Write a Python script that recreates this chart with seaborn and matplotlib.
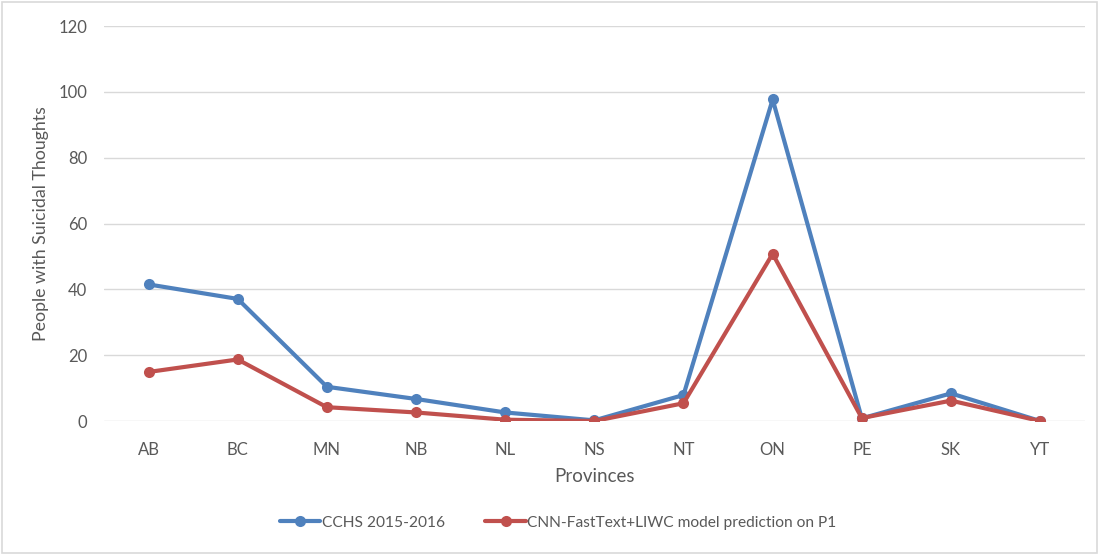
import matplotlib
matplotlib.use("Agg")
import matplotlib.pyplot as plt
import seaborn as sns
import pandas as pd
from matplotlib.patches import Rectangle

provinces = ["AB", "BC", "MN", "NB", "NL", "NS", "NT", "ON", "PE", "SK", "YT"]
cchs = [41.5, 37.1, 10.4, 6.7, 2.6, 0.2, 7.9, 97.7, 0.8, 8.4, 0.0]
cnn = [14.9, 18.7, 4.2, 2.6, 0.4, 0.0, 5.4, 50.8, 0.9, 6.2, 0.0]
series_names = ["CCHS 2015-2016", "CNN-FastText+LIWC model prediction on P1"]
colors = ["#4F81BD", "#C0504D"]
yticks = [0, 20, 40, 60, 80, 100, 120]

sns.set_theme(style="white")
plt.rcParams["font.family"] = ["Lato", "DejaVu Sans"]

df = pd.DataFrame({
    "Provinces": provinces * 2,
    "value": cchs + cnn,
    "series": [series_names[0]] * len(provinces) + [series_names[1]] * len(provinces),
})

fig = plt.figure(figsize=(10.99, 5.55), dpi=100)
ax = fig.add_axes([0.0946, 0.2414, 0.8924, 0.7117])

for name, col in zip(series_names, colors):
    sub = df[df["series"] == name]
    sns.lineplot(data=sub, x="Provinces", y="value", ax=ax, color=col,
                 marker="o", markersize=8, markeredgewidth=0, linewidth=3.0,
                 label=name, sort=False)

ax.set_xlim(-0.5, len(provinces) - 0.5)
ax.set_ylim(0, 120)
ax.set_yticks(yticks)
ax.set_yticklabels([str(t) for t in yticks])
ax.yaxis.grid(True, color="#D9D9D9", linewidth=1.0)
ax.set_axisbelow(True)
for s in ax.spines.values():
    s.set_visible(False)
ax.tick_params(axis="both", length=0, labelsize=12, colors="#595959")
ax.tick_params(axis="x", pad=15)
ax.tick_params(axis="y", pad=12)
ax.set_xlabel("Provinces", fontsize=13.5, color="#595959", labelpad=7)
ax.set_ylabel("People with Suicidal Thoughts", fontsize=12.8, color="#595959", labelpad=7)

handles, labels = ax.get_legend_handles_labels()
ax.legend_.remove()
leg = fig.legend(handles, labels, loc="center", bbox_to_anchor=(0.508, 0.058), ncol=2,
                 frameon=False, fontsize=11.2, handlelength=2.6, handletextpad=0.1,
                 columnspacing=2.6)
for t in leg.get_texts():
    t.set_color("#595959")

fig.patches.append(Rectangle((0.002, 0.003), 0.996, 0.994, transform=fig.transFigure,
                             fill=False, edgecolor="#D9D9D9", linewidth=1.2))

fig.savefig("out.png", dpi=100, facecolor="white")
